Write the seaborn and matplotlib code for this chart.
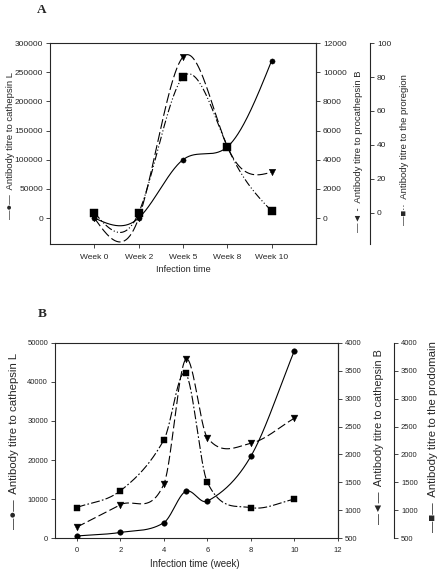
import numpy as np
import matplotlib
matplotlib.use("Agg")
import matplotlib.pyplot as plt
import seaborn as sns

# Panel A: titres per sampling week (categorical)
weeks_a = ["Week 0", "Week 2", "Week 5", "Week 8", "Week 10"]
cathepsin_l_a = [0, 0, 100000, 122000, 270000]
procathepsin_b_a = [0, 0, 11050, 4900, 3150]
proregion_a = [0, 0, 80, 39, 1]

# Panel B: titres per infection week
weeks_b = [0, 2, 4, 5, 6, 8, 10]
cathepsin_l_b = [600, 1500, 4000, 12000, 9500, 21000, 48000]
cathepsin_b_b = [700, 1100, 1470, 3700, 2300, 2200, 2650]
prodomain_b = [1050, 1350, 2260, 3450, 1500, 1050, 1200]


def natural_spline(x, y, n=300):
    # natural cubic spline, only used to draw the smooth connecting curve
    x = np.asarray(x, float)
    y = np.asarray(y, float)
    h = np.diff(x)
    m = len(x)
    A = np.zeros((m, m))
    b = np.zeros(m)
    A[0, 0] = A[-1, -1] = 1
    for i in range(1, m - 1):
        A[i, i - 1] = h[i - 1]
        A[i, i] = 2 * (h[i - 1] + h[i])
        A[i, i + 1] = h[i]
        b[i] = 3 * ((y[i + 1] - y[i]) / h[i] - (y[i] - y[i - 1]) / h[i - 1])
    c = np.linalg.solve(A, b)
    xs = np.linspace(x[0], x[-1], n)
    k = np.clip(np.searchsorted(x, xs) - 1, 0, m - 2)
    d = xs - x[k]
    bb = (y[k + 1] - y[k]) / h[k] - h[k] * (2 * c[k] + c[k + 1]) / 3
    dd = (c[k + 1] - c[k]) / (3 * h[k])
    return xs, y[k] + bb * d + c[k] * d ** 2 + dd * d ** 3


def cardinal_spline(x, y, n=300):
    # Catmull-Rom style hermite curve (less overshoot)
    x = np.asarray(x, float)
    y = np.asarray(y, float)
    m = len(x)
    t = np.zeros(m)
    t[0] = (y[1] - y[0]) / (x[1] - x[0])
    t[-1] = (y[-1] - y[-2]) / (x[-1] - x[-2])
    t[1:-1] = (y[2:] - y[:-2]) / (x[2:] - x[:-2])
    xs = np.linspace(x[0], x[-1], n)
    k = np.clip(np.searchsorted(x, xs) - 1, 0, m - 2)
    h = x[k + 1] - x[k]
    u = (xs - x[k]) / h
    h00 = 2 * u ** 3 - 3 * u ** 2 + 1
    h10 = u ** 3 - 2 * u ** 2 + u
    h01 = -2 * u ** 3 + 3 * u ** 2
    h11 = u ** 3 - u ** 2
    return xs, h00 * y[k] + h10 * h * t[k] + h01 * y[k + 1] + h11 * h * t[k + 1]


def draw(ax, x, y, marker, ms, dashes, smooth):
    xs, ys = smooth(x, y)
    ln, = ax.plot(xs, ys, color="black", lw=0.8)
    if dashes:
        ln.set_dashes(dashes)
    sns.scatterplot(x=x, y=y, ax=ax, marker=marker, s=ms, color="black",
                    edgecolor="black", linewidth=0.3, zorder=5, legend=False)


def style_axis(ax, side, pos=None):
    for s in ["top", "bottom", "left", "right"]:
        ax.spines[s].set_visible(False)
    ax.spines[side].set_visible(True)
    ax.spines[side].set_linewidth(0.8)
    if pos is not None:
        ax.spines[side].set_position(("axes", pos))
    ax.tick_params(axis="y", direction="out", length=3, width=0.6, pad=2)


sns.set_style("ticks")
plt.rcParams["font.family"] = ["Liberation Sans", "DejaVu Sans"]

fig = plt.figure(figsize=(4.43, 5.72), dpi=100)

# ---------------- Panel A ----------------
ax = fig.add_axes([0.1129, 0.5734, 0.6005, 0.3513])
ax2 = ax.twinx()
ax3 = ax.twinx()
xa = list(range(len(weeks_a)))

draw(ax, xa, cathepsin_l_a, "o", 14, None, natural_spline)
draw(ax2, xa, procathepsin_b_a, "v", 22, (9, 3), natural_spline)
draw(ax3, xa, proregion_a, "s", 26, (7, 2, 1, 2, 1, 2), natural_spline)

ax.set_xlim(-1, 5)
ax.set_xticks(xa)
ax.set_xticklabels(weeks_a)
ax.set_ylim(-44600, 300000)
ax.set_yticks(range(0, 300001, 50000))
ax2.set_ylim(-1784, 12000)
ax2.set_yticks(range(0, 12001, 2000))
ax3.set_ylim(-18.4, 100)
ax3.set_yticks(range(0, 101, 20))

for s in ["top", "bottom", "left", "right"]:
    ax.spines[s].set_linewidth(0.8)
    ax.spines[s].set_visible(True)
ax.tick_params(axis="y", direction="out", length=3, width=0.6, pad=2, labelsize=6)
ax.tick_params(axis="x", direction="out", length=3, width=0.6, pad=4, labelsize=6)
style_axis(ax2, "right")
style_axis(ax3, "right", 1.203)
ax2.tick_params(axis="y", labelsize=6)
ax3.tick_params(axis="y", labelsize=6)

ax.set_xlabel("Infection time", fontsize=6.6, va="top")
ax.xaxis.set_label_coords(0.5, -0.104)
ax.set_ylabel("\u2014\u25cf\u2014  Antibody titre to cathepsin L", fontsize=6.8, va="center")
ax.yaxis.set_label_coords(-0.148, 0.49)
ax2.set_ylabel("\u2014\u25c4 -  Antibody titre to procathepsin B", fontsize=6.8, va="center")
ax2.yaxis.set_label_coords(1.158, 0.46)
ax3.set_ylabel("\u2014\u25a0\u00b7\u00b7  Antibody titre to the proregion", fontsize=6.8, va="center")
ax3.yaxis.set_label_coords(1.331, 0.47)
fig.text(0.095, 0.993, "A", fontsize=9.5, fontweight="bold",
         family="Liberation Serif", va="top", ha="center")

# ---------------- Panel B ----------------
bx = fig.add_axes([0.1242, 0.0589, 0.6388, 0.342])
bx2 = bx.twinx()
bx3 = bx.twinx()

draw(bx, weeks_b, cathepsin_l_b, "o", 16, None, cardinal_spline)
draw(bx2, weeks_b, cathepsin_b_b, "v", 24, (8, 3), cardinal_spline)
draw(bx3, weeks_b, prodomain_b, "s", 22, (8, 2, 1.5, 2), cardinal_spline)

bx.set_xlim(-1, 12)
bx.set_xticks(range(0, 13, 2))
bx.set_ylim(0, 50000)
bx.set_yticks(range(0, 50001, 10000))
bx2.set_ylim(500, 4000)
bx2.set_yticks(range(500, 4001, 500))
bx3.set_ylim(500, 4000)
bx3.set_yticks(range(500, 4001, 500))

for s in ["top", "bottom", "left", "right"]:
    bx.spines[s].set_linewidth(0.8)
    bx.spines[s].set_visible(True)
bx.tick_params(axis="y", direction="out", length=3, width=0.6, pad=2, labelsize=5.5)
bx.tick_params(axis="x", direction="out", length=2, width=0.6, pad=4, labelsize=5.5)
style_axis(bx2, "right")
style_axis(bx3, "right", 1.198)
bx2.tick_params(axis="y", labelsize=5.5)
bx3.tick_params(axis="y", labelsize=5.5)

bx.set_xlabel("Infection time (week)", fontsize=7, va="top")
bx.xaxis.set_label_coords(0.495, -0.106)
bx.set_ylabel("\u2014\u25cf\u2014  Antibody titre to cathepsin L", fontsize=8.2, va="center")
bx.yaxis.set_label_coords(-0.145, 0.5)
bx2.set_ylabel("\u2014\u25c4\u2014  Antibody titre to cathepsin B", fontsize=7.8, va="center")
bx2.yaxis.set_label_coords(1.145, 0.52)
bx3.set_ylabel("\u2014\u25a0\u2014  Antibody titre to the prodomain", fontsize=8.2, va="center")
bx3.yaxis.set_label_coords(1.336, 0.52)
fig.text(0.095, 0.462, "B", fontsize=9.5, fontweight="bold",
         family="Liberation Serif", va="top", ha="center")

fig.savefig("out.png", dpi=100)
